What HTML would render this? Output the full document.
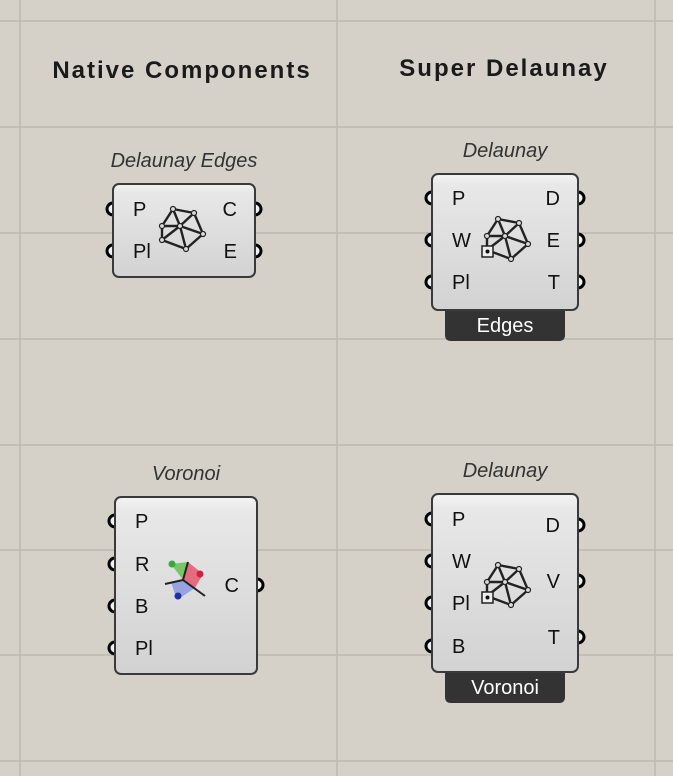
<!DOCTYPE html>
<html><head><meta charset="utf-8"><style>
html,body{margin:0;padding:0;background:#d5d1c9;}
svg{display:block;font-family:"Liberation Sans",sans-serif;}
</style></head><body>
<svg width="673" height="776" viewBox="0 0 673 776">
<defs>
<linearGradient id="bg" x1="0" y1="0" x2="0" y2="1">
<stop offset="0" stop-color="#f4f4f4"/><stop offset="0.08" stop-color="#e8e8e8"/><stop offset="1" stop-color="#d2d2d2"/>
</linearGradient>
</defs>
<g stroke="#bdb9b1" stroke-width="1.5">
<line x1="20" y1="0" x2="20" y2="776"/><line x1="337" y1="0" x2="337" y2="776"/><line x1="655" y1="0" x2="655" y2="776"/>
<line x1="0" y1="21" x2="673" y2="21"/><line x1="0" y1="127" x2="673" y2="127"/><line x1="0" y1="233" x2="673" y2="233"/>
<line x1="0" y1="339" x2="673" y2="339"/><line x1="0" y1="445" x2="673" y2="445"/><line x1="0" y1="550" x2="673" y2="550"/>
<line x1="0" y1="655" x2="673" y2="655"/><line x1="0" y1="761" x2="673" y2="761"/>
</g>
<text x="182" y="78" font-size="24" font-weight="bold" letter-spacing="2" text-anchor="middle" fill="#1a1a1a">Native Components</text>
<text x="504" y="76" font-size="24" font-weight="bold" letter-spacing="2" text-anchor="middle" fill="#1a1a1a">Super Delaunay</text>

<g id="comps"></g>
</svg>
<script>
const NS='http://www.w3.org/2000/svg';
const root=document.getElementById('comps');
function mk(tag,attrs,parent){const e=document.createElementNS(NS,tag);for(const k in attrs)e.setAttribute(k,attrs[k]);parent.appendChild(e);return e;}
function txt(x,y,s,size,anchor,parent,extra){const t=mk('text',Object.assign({x:x,y:y,'font-size':size,'text-anchor':anchor,fill:'#111'},extra||{}),parent);t.textContent=s;return t;}
function delIcon(cx,cy,g,plus){
  const pts=[[-9,-19],[12,-15],[21,6],[4,21],[-20,12],[-20,-2],[-2,-2]];
  const P=pts.map(p=>[cx+p[0],cy+p[1]]);
  const edges=[[0,1],[1,2],[2,3],[3,4],[4,5],[5,0],[6,0],[6,1],[6,2],[6,3],[6,4],[6,5]];
  edges.forEach(e=>mk('line',{x1:P[e[0]][0],y1:P[e[0]][1],x2:P[e[1]][0],y2:P[e[1]][1],stroke:'#222','stroke-width':2.4},g));
  P.forEach(p=>mk('circle',{cx:p[0],cy:p[1],r:2.5,fill:'#ddd',stroke:'#222','stroke-width':1.2},g));
  if(plus){mk('rect',{x:cx-25,y:cy+8,width:11,height:11,fill:'#eee',stroke:'#222','stroke-width':1.5},g);
    mk('circle',{cx:cx-19.5,cy:cy+13.5,r:2,fill:'#111'},g);}
}
function voroIcon(cx,cy,g){
  mk('path',{d:`M${cx-2},${cy} L${cx-14},${cy-16} L${cx+3},${cy-18} Z`,fill:'#5bc04a',opacity:0.8},g);
  mk('path',{d:`M${cx-2},${cy} L${cx+3},${cy-18} L${cx+18},${cy-6} L${cx+10},${cy+8} Z`,fill:'#e8445e',opacity:0.75},g);
  mk('path',{d:`M${cx-2},${cy} L${cx-14},${cy+2} L${cx-8},${cy+20} L${cx+10},${cy+8} Z`,fill:'#7f8ee0',opacity:0.75},g);
  [[cx-2,cy,cx+3,cy-18],[cx-2,cy,cx-20,cy+4],[cx-2,cy,cx+20,cy+16]].forEach(l=>mk('line',{x1:l[0],y1:l[1],x2:l[2],y2:l[3],stroke:'#222','stroke-width':2},g));
  mk('circle',{cx:cx-13,cy:cy-16,r:3.5,fill:'#3aa83a'},g);
  mk('circle',{cx:cx+15,cy:cy-6,r:3.5,fill:'#d0203c'},g);
  mk('circle',{cx:cx-7,cy:cy+16,r:3.5,fill:'#1a2fb0'},g);
}
function comp(c){
  const g=mk('g',{},root);
  
  
  const t=txt(c.x+c.w/2,c.y-17,c.title,20,'middle',g,{'font-style':'italic',fill:'#333'});
  
  
  if(c.footer){
    const x0=c.x+13,x1=c.x+c.w-13,y0=c.y+c.h-10,y1=c.y+c.h+31,r=6;
    const f=mk('path',{d:`M${x0},${y0} H${x1} V${y1-r} Q${x1},${y1} ${x1-r},${y1} H${x0+r} Q${x0},${y1} ${x0},${y1-r} Z`,fill:'#333'},g);
    
    
    const ft=txt(c.x+c.w/2,c.y+c.h+22,c.footer,20,'middle',g,{fill:'#fff'});
    
    
  }
  c.ins.forEach(p=>{const cc=mk('circle',{cx:c.x,cy:p[1],r:6,fill:'#f2f2f2',stroke:'#000','stroke-width':3},g);
    
    });
  c.outs.forEach(p=>{const cc=mk('circle',{cx:c.x+c.w,cy:p[1],r:6,fill:'#f2f2f2',stroke:'#000','stroke-width':3},g);
    
    });
  const b=mk('rect',{x:c.x,y:c.y,width:c.w,height:c.h,rx:6,fill:'url(#bg)',stroke:'#3a3a3a','stroke-width':2},g);
  
  
  c.ins.forEach(p=>{const l=txt(c.x+20,p[1]+7,p[0],20,'start',g);
    
    });
  c.outs.forEach(p=>{const l=txt(c.x+c.w-18,p[1]+7,p[0],20,'end',g);
    
    });
  const ig=mk('g',{},g);
  
  
  if(c.icon==='v')voroIcon(c.ix,c.iy,ig);else delIcon(c.ix,c.iy,ig,c.icon==='dp');
}
comp({name:'delaunay-edges-component',x:113,y:184,w:142,h:93,title:'Delaunay Edges',ins:[['P',209],['Pl',251]],outs:[['C',209],['E',251]],icon:'d',ix:182,iy:228});
comp({name:'super-delaunay-edges-component',x:432,y:174,w:146,h:136,title:'Delaunay',footer:'Edges',ins:[['P',198],['W',240],['Pl',282]],outs:[['D',198],['E',240],['T',282]],icon:'dp',ix:507,iy:238});
comp({name:'voronoi-component',x:115,y:497,w:142,h:177,title:'Voronoi',ins:[['P',521],['R',564],['B',606],['Pl',648]],outs:[['C',585]],icon:'v',ix:185,iy:580});
comp({name:'super-delaunay-voronoi-component',x:432,y:494,w:146,h:178,title:'Delaunay',footer:'Voronoi',ins:[['P',519],['W',561],['Pl',603],['B',646]],outs:[['D',525],['V',581],['T',637]],icon:'dp',ix:507,iy:584});
</script>
</body></html>
